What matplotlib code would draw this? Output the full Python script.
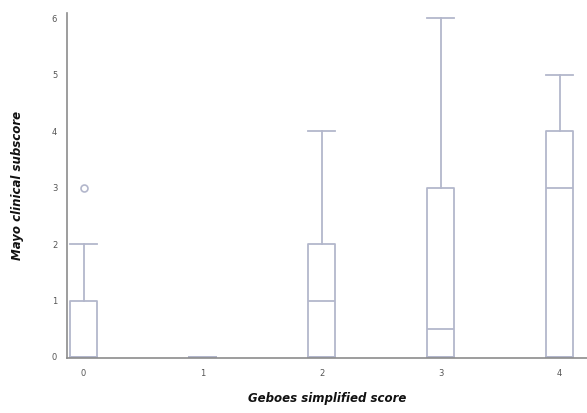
import matplotlib
matplotlib.use("Agg")
import matplotlib.pyplot as plt

categories = ["0", "1", "2", "3", "4"]
whislo = [0, 0, 0, 0, 0]
q1 = [0, 0, 0, 0, 0]
med = [0, 0, 1, 0.5, 3]
q3 = [1, 0, 2, 3, 4]
whishi = [2, 0, 4, 6, 5]
fliers = [[3], [], [], [], []]
yticks = [0, 1, 2, 3, 4, 5, 6]

stats = []
for i, c in enumerate(categories):
    stats.append(dict(label=c, whislo=whislo[i], q1=q1[i], med=med[i],
                      q3=q3[i], whishi=whishi[i], fliers=fliers[i]))

col = "#b3b7cc"
fig = plt.figure(figsize=(5.87, 4.13), dpi=100)
ax = fig.add_axes([0.114, 0.133, 0.886, 0.836])
ax.bxp(stats, positions=range(len(categories)), widths=0.23,
       boxprops=dict(color=col, linewidth=1.3),
       whiskerprops=dict(color=col, linewidth=1.3),
       capprops=dict(color=col, linewidth=1.3),
       medianprops=dict(color=col, linewidth=1.3),
       flierprops=dict(marker='o', markerfacecolor='white', markeredgecolor=col,
                       markersize=5, markeredgewidth=1.2),
       capwidths=0.23)
ax.set_xlim(-0.14, 4.23)
ax.set_ylim(-0.02, 6.1)
ax.set_yticks(yticks)
ax.set_yticklabels([str(t) for t in yticks])
for s in ["top", "right"]:
    ax.spines[s].set_visible(False)
for s in ["left", "bottom"]:
    ax.spines[s].set_color("#8c8c8c")
    ax.spines[s].set_linewidth(1.2)
ax.tick_params(length=0, labelsize=6, colors="#555555")
ax.tick_params(axis="x", pad=8)
ax.tick_params(axis="y", pad=7)
ax.set_xlabel("Geboes simplified score", fontsize=8.5, fontweight="bold",
              fontstyle="italic", labelpad=10, color="#111111")
ax.set_ylabel("Mayo clinical subscore", fontsize=8.5, fontweight="bold",
              fontstyle="italic", labelpad=20, color="#111111")
fig.savefig("out.png", dpi=100)
